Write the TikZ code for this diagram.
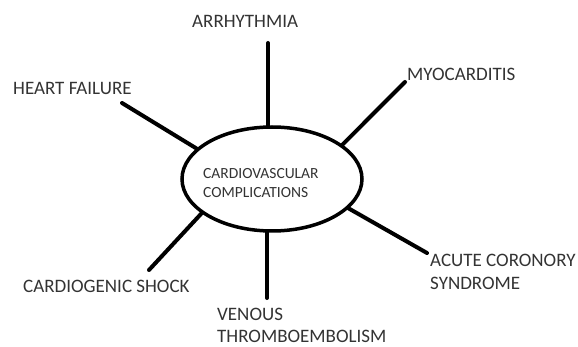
\documentclass[tikz,border=0pt]{standalone}
\usepackage{fontspec}
\setmainfont{Carlito}
\usetikzlibrary{shapes.geometric}
\definecolor{txt}{HTML}{333333}
\begin{document}
\begin{tikzpicture}[x=1pt,y=-1pt,
  conn/.style={line width=4pt, line cap=round},
  lbl/.style={text=txt, font=\fontsize{19}{23}\selectfont, inner sep=0pt, anchor=base west, align=left},
  hub/.style={ellipse, draw, line width=3.5pt, minimum width=180pt, minimum height=104pt, inner sep=0pt},
  hubtext/.style={text=txt, font=\fontsize{15.5}{19}\selectfont, inner sep=0pt, anchor=base west, align=left}]
\useasboundingbox (0,0) rectangle (578,347);
\node[hub] (c) at (272,179) {};
\node[hubtext] (ct) at (203,198) {CARDIOVASCULAR\\COMPLICATIONS};
\node[lbl] (arr) at (192,28) {ARRHYTHMIA};
\node[lbl] (hf) at (13,95) {HEART FAILURE};
\node[lbl] (myo) at (407,81) {MYOCARDITIS};
\node[lbl] (acs) at (430,290) {ACUTE CORONORY\\SYNDROME};
\node[lbl] (cs) at (23,293) {CARDIOGENIC SHOCK};
\node[lbl, font=\fontsize{19}{22}\selectfont] (vte) at (217,342) {VENOUS\\THROMBOEMBOLISM};
\coordinate (parr) at (268,43);
\coordinate (phf) at (122,103);
\coordinate (pmyo) at (405,82);
\coordinate (pacs) at (427,253);
\coordinate (pcs) at (149,270);
\coordinate (pvte) at (267,298);
\draw[conn] (parr) -- (parr |- c.north);
\draw[conn] (phf) -- (c.158);
\draw[conn] (pmyo) -- (c.26);
\draw[conn] (pacs) -- (c.-21);
\draw[conn] (pcs) -- (c.206);
\draw[conn] (pvte) -- (pvte |- c.south);
\end{tikzpicture}
\end{document}
